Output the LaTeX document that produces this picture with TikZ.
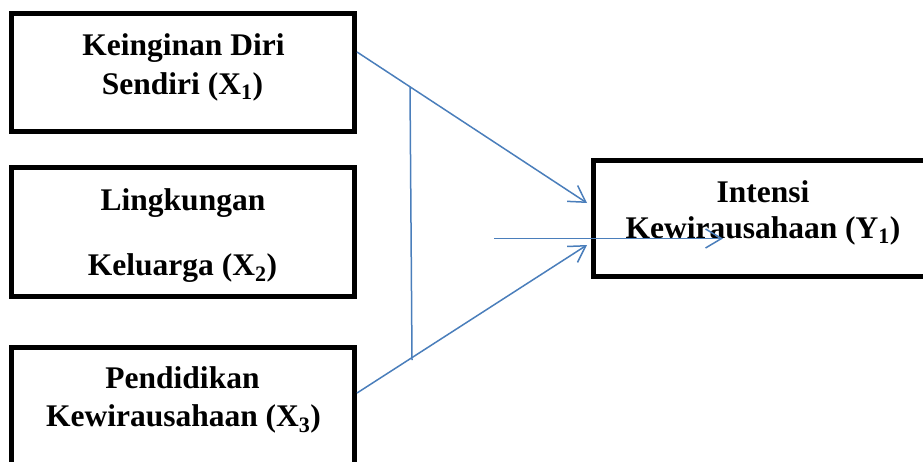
\documentclass[tikz,border=0pt]{standalone}
\usepackage{fontspec}
\setmainfont{Liberation Serif}
\usetikzlibrary{arrows.meta}
\definecolor{lineblue}{HTML}{4A7EBB}
\tikzset{
  box/.style={draw=black, line width=5pt, inner sep=0pt},
  lbl/.style={anchor=base, inner sep=0pt, font=\fontsize{31.5}{38}\selectfont\bfseries},
  conn/.style={draw=lineblue, line width=1.5pt},
  arr/.style={conn, -{Straight Barb[length=16pt,width=19pt,line width=1.5pt]}}
}
\begin{document}
\begin{tikzpicture}[x=1pt,y=-1pt]
\useasboundingbox (0,0) rectangle (923,461);
\clip (0,0) rectangle (923,461);
% boxes
\node[box, minimum width=343pt, minimum height=118pt] (b1) at (182.5,72) {};
\node[box, minimum width=343pt, minimum height=129pt] (b2) at (182.5,231.5) {};
\node[box, minimum width=343pt, minimum height=133pt] (b3) at (182.5,413.5) {};
\node[box, minimum width=342pt, minimum height=116pt] (by) at (764,218) {};
% texts
\node[lbl] (t1a) at (183.5,55) {Keinginan Diri};
\node[lbl] (t1b) at (182.5,94) {Sendiri (X\textsubscript{1})};
\node[lbl] (t2a) at (183,210) {Lingkungan};
\node[lbl] (t2b) at (182.5,275) {Keluarga (X\textsubscript{2})};
\node[lbl] (t3a) at (182.5,388) {Pendidikan};
\node[lbl] (t3b) at (183.5,426) {Kewirausahaan (X\textsubscript{3})};
\node[lbl] (tya) at (763,202) {Intensi};
\node[lbl] (tyb) at (763,238) {Kewirausahaan (Y\textsubscript{1})};
% connector points
\coordinate (s1) at (357,52);
\coordinate (e1) at (587,203);
\coordinate (s3) at (357,393);
\coordinate (e3) at (587,245);
\coordinate (vt) at (410,87);
\coordinate (vb) at (412,360);
\coordinate (hs) at (494,238.5);
\coordinate (he) at (723,238.5);
\draw[arr] (s1) -- (e1);
\draw[arr] (s3) -- (e3);
\draw[conn] (vt) -- (vb);
\draw[arr] (hs) -- (he);
\end{tikzpicture}
\end{document}
